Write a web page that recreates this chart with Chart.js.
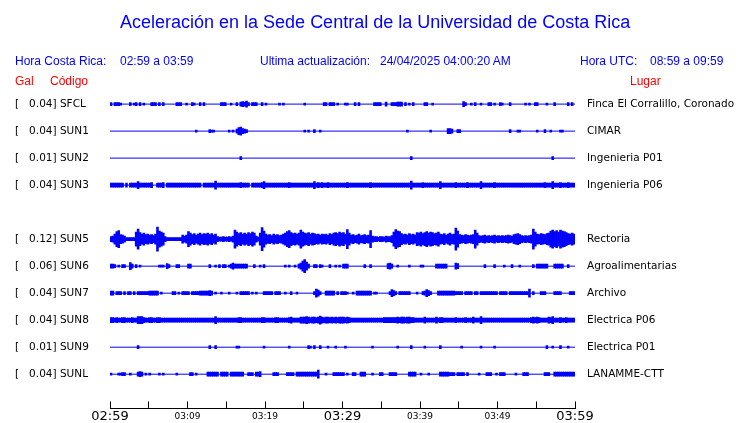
<!DOCTYPE html>
<html><head><meta charset="utf-8">
<script src="https://cdn.jsdelivr.net/npm/chart.js@4.4.1/dist/chart.umd.min.js"></script>
<style>
html,body{margin:0;padding:0;background:#fff;}
#wrap{position:relative;width:740px;height:423px;overflow:hidden;background:#fff;}
#wrap canvas{position:absolute;left:0;top:0;}
.t{position:absolute;white-space:pre;font-family:"Liberation Sans",Arial,sans-serif;line-height:1;}
.b{color:#0000ff;font-size:12px;}
.r{color:#ff0000;font-size:12px;}
#title{font-size:18px;color:#0000ff;left:120px;top:13px;}
</style></head><body>
<div id="wrap">
<canvas id="c" width="740" height="423"></canvas>
<div class="t" id="title">Aceleración en la Sede Central de la Universidad de Costa Rica</div>
<div class="t b" style="left:15px;top:55px">Hora Costa Rica:</div>
<div class="t b" style="left:120px;top:55px">02:59 a 03:59</div>
<div class="t b" style="left:260px;top:55px">Ultima actualización:</div>
<div class="t b" style="left:380px;top:55px">24/04/2025 04:00:20 AM</div>
<div class="t b" style="left:580px;top:55px">Hora UTC:</div>
<div class="t b" style="left:650px;top:55px">08:59 a 09:59</div>
<div class="t r" style="left:15px;top:75px">Gal</div>
<div class="t r" style="left:50px;top:75px">Código</div>
<div class="t r" style="left:630px;top:75px">Lugar</div>
</div>
<script>
// ---- data ----
const TIME_LABELS = ['02:59','03:09','03:19','03:29','03:39','03:49','03:59'];
const SPAN_MIN = 60;          // minutes shown
const STATIONS = ['SFCL','SUN1','SUN2','SUN3','','SUN5','SUN6','SUN7','SUN8','SUN9','SUNL'];
const GAL      = ['0.04','0.04','0.01','0.04','','0.12','0.06','0.04','0.04','0.01','0.04'];
const PLACES   = ['Finca El Corralillo, Coronado','CIMAR','Ingenieria P01','Ingenieria P06','',
                  'Rectoria','Agroalimentarias','Archivo','Electrica P06','Electrica P01','LANAMME-CTT'];

// trace envelopes: one base-36 char per 0.25 min (240 samples), peak-to-peak amplitude
const ENV_SFCL = '3033320000 3023030200 0333030300 0000333002 0032003030 0000000333 0020030454 6303330030 2000000202 0000000000 2000000000 3303330200 0220003030 0000003333 0040033344 4030203000 0033002000 0000000000 0053002030 0200033020 0320003000 0000202003 3000020003 0000003030';
const ENV_SUN1 = '0000000000 0000000000 0000000000 0000000000 0000200000 0322000000 0202047854 3000000000 0000000000 0000000000 2020030020 0000000000 0000000000 0000000000 0000000000 0002000000 0000020000 0000554003 3000000000 0000000000 0000003000 2200000000 2000300200 0022000000';
const ENV_SUN2 = '0000000000 0000000000 0000000000 0000000000 0000000000 0000000000 0000000300 0000000000 0000000000 0000000000 0000000000 0000000000 0000000000 0000000000 0000000000 0000030000 0000000000 0000000000 0000000000 0000000000 0000000000 0000000000 0000000030 0000000000';
const ENV_SUN3 = '4444444141 4444744444 4511444514 4444444444 4444444144 4444844444 4444444544 4414444457 4444444444 4454444444 4444474545 4454444444 4454444444 4444544444 4444444444 4444484444 4544444444 7444444454 4444544444 4744444454 4444444444 4444444444 4444544474 4454445444';
const ENV_SUN5 = '56afh98633 333ekdac9a 897aogec53 3333333868 fc9b8ac9ba c9b8a54454 4546iebdac adbec64cng a897a8978a cfhdbcacie cbdacb9a8a 9a8b9cdbec dajc8978a7 8978h65545 546557ejgf b9a8b9a8dc ebdfcedbce a9b8ac9amg 98798789ic 7678676786 767678769a b9767678ke a9ba9bcgif heigfdbaca';
const ENV_SUN6 = '4430203300 7403020000 0000022205 3000330000 4400000000 0300203033 0246444444 4000300203 0000000000 202002046a d840033032 0003002020 4440000000 0300300000 0005640020 0000200000 2200000044 4444000065 0000000000 0003000030 0002000300 0200000030 4444440004 4444003000';
const ENV_SUN7 = '4403330303 3030333333 4444402000 0033020333 3033334444 4540200200 0200020333 3302020003 3333033300 2003002000 0000038630 0444440303 3320020444 4444402200 0000375303 3333300020 0347530004 4444444433 3303333033 0333333333 0333303333 3333338030 0033300003 3330000333';
const ENV_SUN8 = '5545445544 4544777544 5544554444 4444444444 4444444444 4444744444 4444445544 4444444455 4444455444 4456444466 6765665686 5665656566 6565444444 4444444444 4555555565 6656655444 4464444464 5544444454 4445444644 4744444444 4444444444 4444444565 6544446574 4454454444';
const ENV_SUN9 = '0000000000 0000300000 0000000000 0000000000 0000000000 0300300000 0000022000 0000000002 0000000000 0020000000 0032030030 0020002000 0200000000 0000020000 0000000020 0000030000 0020000000 3000000000 0200000000 0200000020 0000000000 0000000000 0000030020 0030002000';
const ENV_SUNL = '2000223300 2000454020 2000020200 0000200000 0330200000 4444440444 4044444440 0333044500 0000333000 0333304444 4444444800 0200033333 3020033004 4400020003 3000333300 0000444400 2000200000 4444433303 3330300000 2000333002 0333000002 0003330000 0000333004 4444444444';

const ENVELOPES = {SFCL:ENV_SFCL, SUN1:ENV_SUN1, SUN2:ENV_SUN2, SUN3:ENV_SUN3, SUN5:ENV_SUN5,
                   SUN6:ENV_SUN6, SUN7:ENV_SUN7, SUN8:ENV_SUN8, SUN9:ENV_SUN9, SUNL:ENV_SUNL};

// ---- rendering ----
const TRACE_COLOR = '#0000ff';
const GAIN = 1 / 54;          // amplitude units -> row units
const Y_MIN = -0.5, Y_MAX = 11.27;
function decode(s){ return s.replace(/\s+/g,'').split('').map(c => parseInt(c, 36)); }

const datasets = [];
STATIONS.forEach((st, k) => {
  if (!st) return;
  const amps = decode(ENVELOPES[st]);
  const step = SPAN_MIN / amps.length;
  datasets.push({
    type:'line', label: st + ' base',
    data:[{x:0, y:k}, {x:SPAN_MIN, y:k}],
    borderColor: TRACE_COLOR, borderWidth: 1, pointRadius: 0, order: 2
  });
  const pts = [];
  amps.forEach((h, i) => { if (h > 1) pts.push({x:(i + 0.5) * step, y:[k - h * GAIN, k + h * GAIN]}); });
  datasets.push({
    type:'bar', label: st, data: pts,
    backgroundColor: TRACE_COLOR, borderWidth: 0, grouped: false,
    barPercentage: 1, categoryPercentage: 1, order: 1
  });
});
// time-axis line along the bottom edge of the plot
datasets.push({
  type:'line', label:'axis', data:[{x:0, y:Y_MAX}, {x:SPAN_MIN, y:Y_MAX}],
  borderColor:'#000', borderWidth:1, pointRadius:0, clip:false, order:0
});

const rowTicks = (a) => { a.ticks = STATIONS.map((s, i) => ({value: i})); };

new Chart(document.getElementById('c'), {
  type: 'bar',
  data: { datasets },
  options: {
    responsive: false, animation: false, events: [],
    devicePixelRatio: 1,
    layout: { autoPadding: false, padding: { top: 90.6, left: 15, right: 0, bottom: 0 } },
    plugins: { legend: {display:false}, tooltip: {enabled:false}, title:{display:false} },
    scales: {
      x: {
        type: 'linear', min: 0, max: SPAN_MIN, offset: false, position: 'bottom',
        ticks: {
          stepSize: 5, autoSkip: false, maxRotation: 0, padding: 9, color: '#000',
          callback: (v) => (v % 10 === 0 ? TIME_LABELS[v / 10] : ''),
          font: (c) => (c.tick && c.tick.value % 30 === 0)
              ? {family: 'DejaVu Sans', size: 13, lineHeight: 1}
              : {family: 'DejaVu Sans', size: 9, lineHeight: 1.4}
        },
        grid: { offset: false, drawOnChartArea: false, drawTicks: true, tickLength: -7, color: '#000', lineWidth: 1 },
        border: { display: true, color: '#000', width: 1 },
        afterFit: (a) => { a.height = 14.5; }
      },
      y: {
        type: 'linear', min: Y_MIN, max: Y_MAX, reverse: true, position: 'left',
        afterBuildTicks: rowTicks,
        ticks: {
          autoSkip: false, crossAlign: 'far', padding: 0, color: '#000',
          font: {family: 'DejaVu Sans', size: 10.5},
          callback: (v) => (STATIONS[v] ? '[   ' + GAL[v] + '] ' + STATIONS[v] : '')
        },
        grid: { display: false }, border: { display: false },
        afterFit: (a) => { a.width = 95; }
      },
      y2: {
        type: 'linear', min: Y_MIN, max: Y_MAX, reverse: true, position: 'right',
        afterBuildTicks: rowTicks,
        ticks: {
          autoSkip: false, crossAlign: 'near', padding: 0, color: '#000',
          font: {family: 'DejaVu Sans', size: 10.5},
          callback: (v) => PLACES[v] || ''
        },
        grid: { display: false, drawTicks: true, tickLength: 12 }, border: { display: false },
        afterFit: (a) => { a.width = 165; }
      }
    }
  }
});
</script>
</body></html>
